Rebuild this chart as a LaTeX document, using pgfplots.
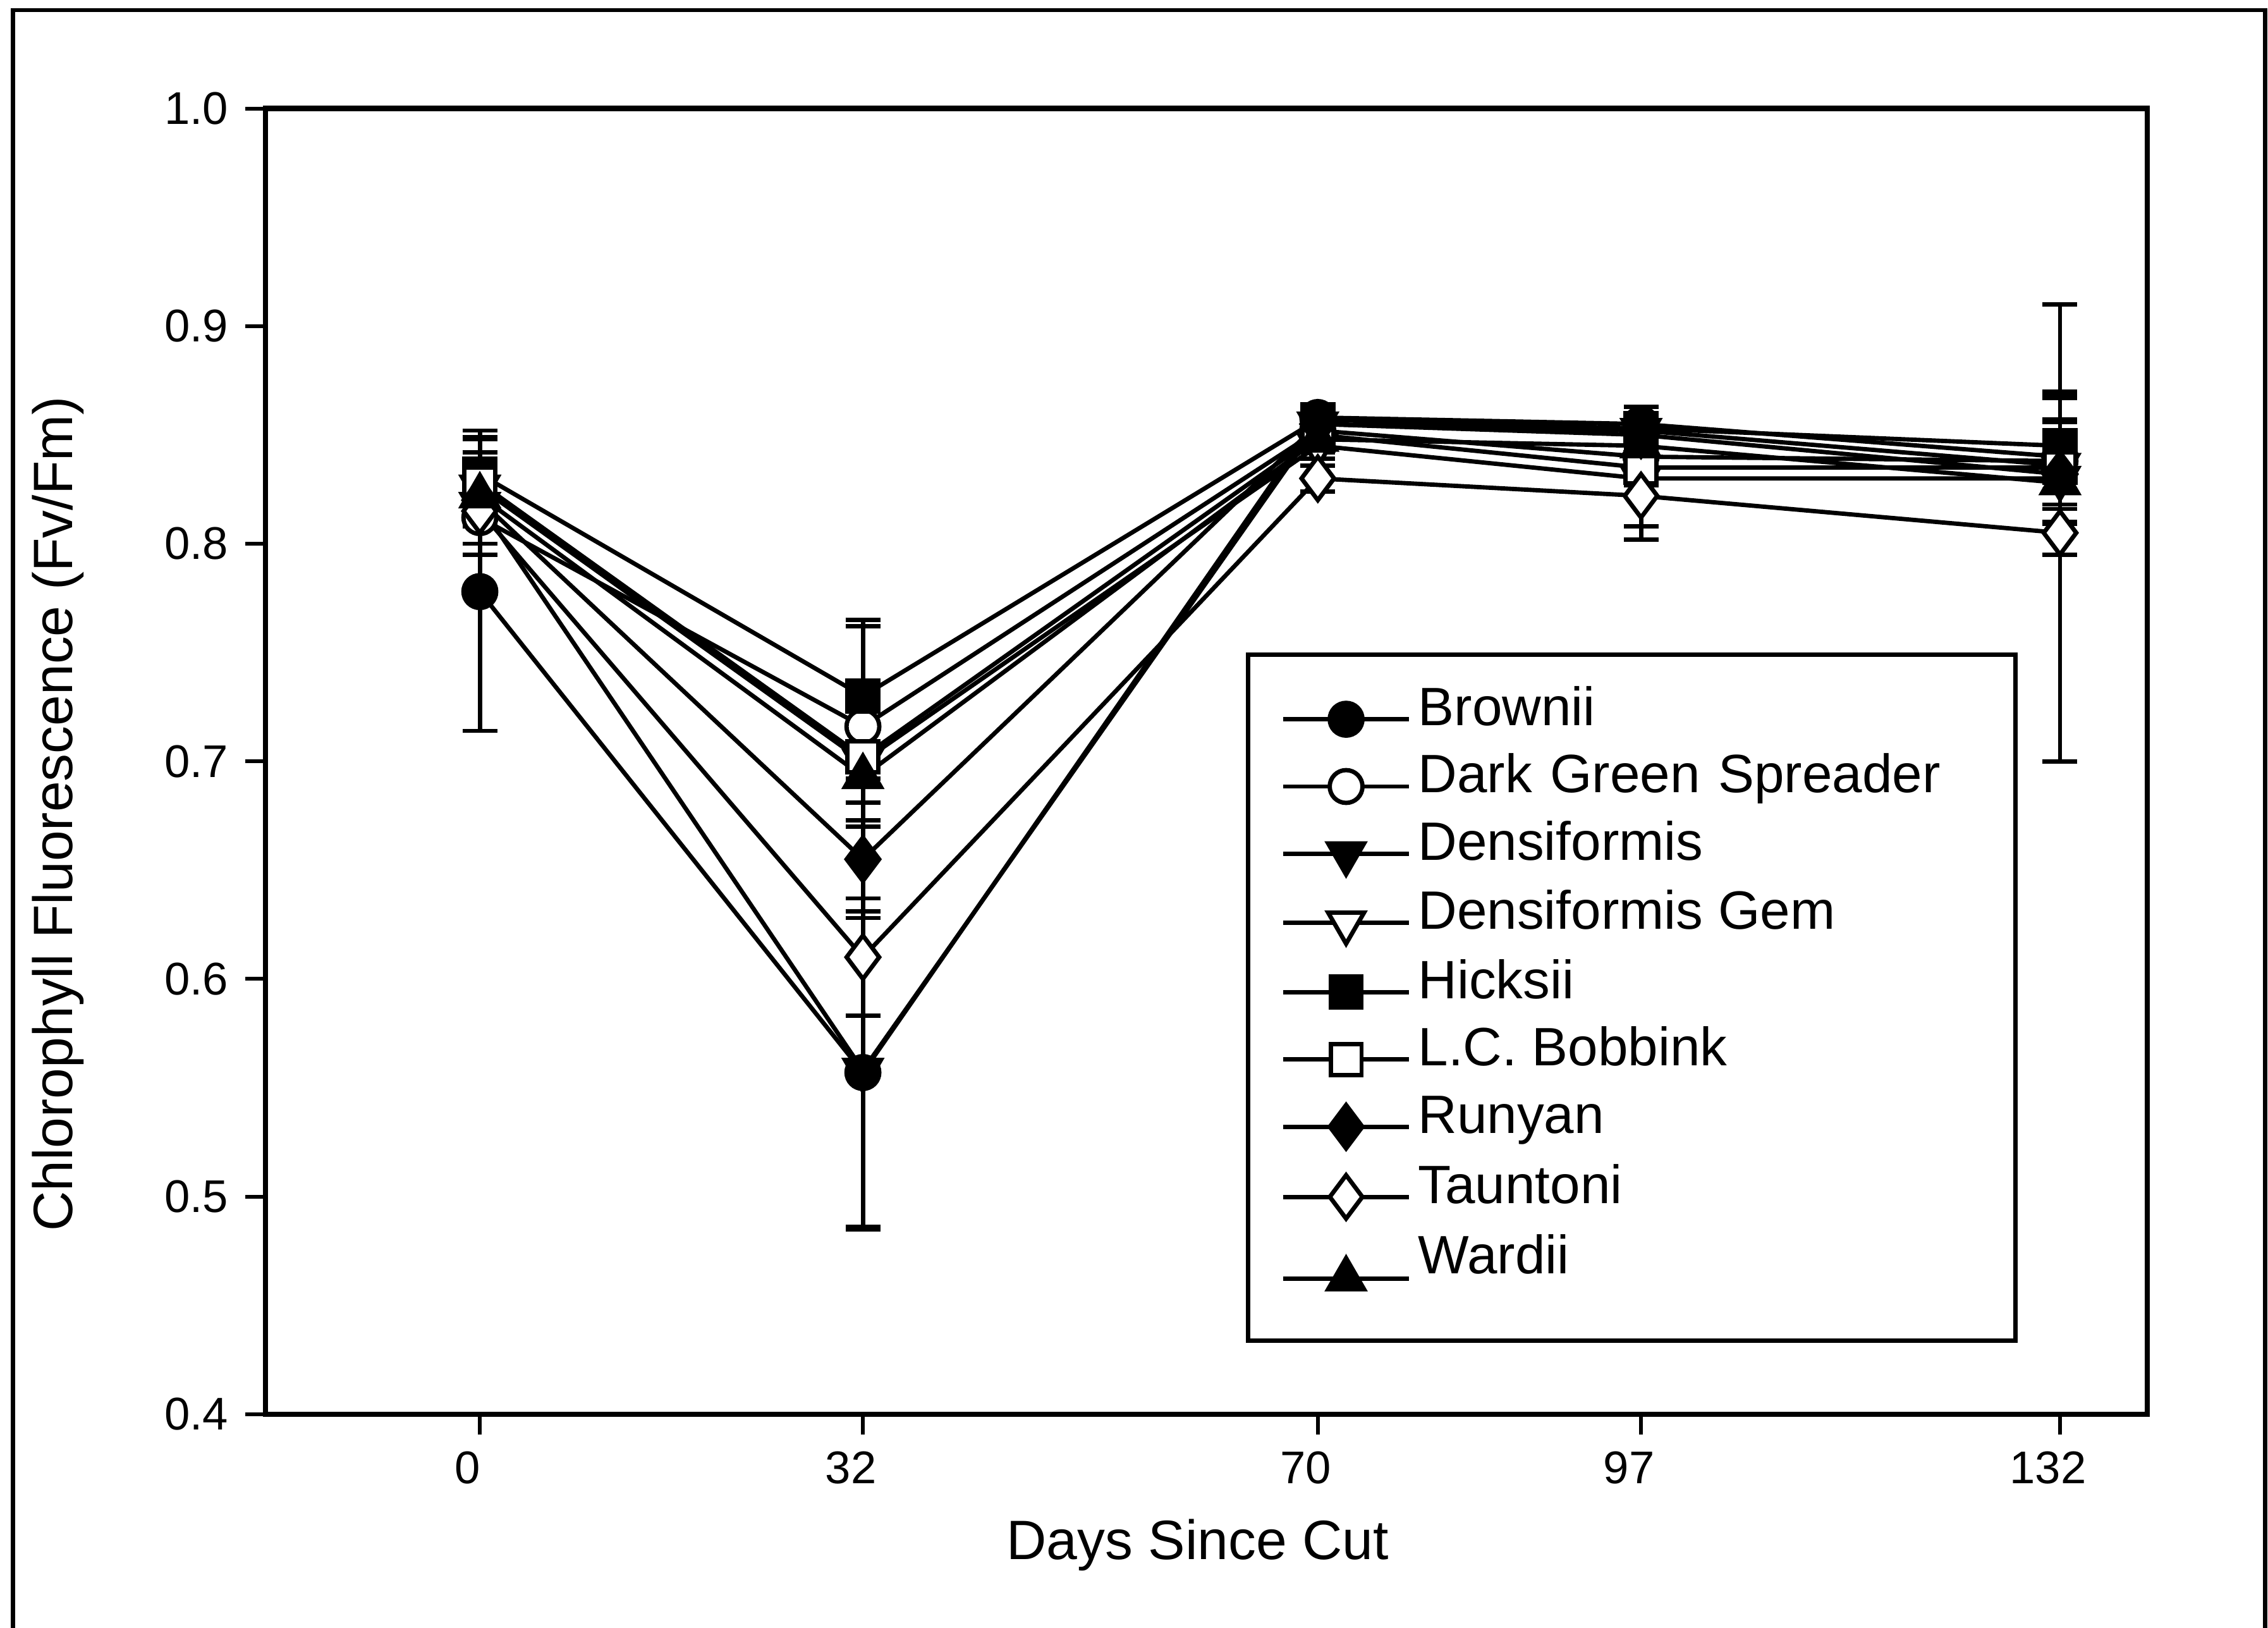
\documentclass[border=0pt]{standalone}
\usepackage{fontspec}
\setmainfont{Liberation Sans}
\usepackage{pgfplots}
\pgfplotsset{compat=1.18}
\usepackage{pgfplotstable}

% columns: day, then mean and error for each cultivar
\pgfplotstableread{
x   br    brE   dg    dgE   de    deE   dm    dmE   hi    hiE   lc    lcE   ru    ruE   ta    taE   wa    waE
0   0.778 0.064 0.812 0.012 0.818 0.010 0.826 0.010 0.832 0.020 0.828 0.020 0.820 0.010 0.815 0.015 0.822 0.027
32  0.557 0.071 0.716 0.046 0.558 0.073 0.700 0.008 0.730 0.035 0.702 0.006 0.655 0.018 0.610 0.027 0.693 0.012
70  0.858 0.006 0.852 0.005 0.855 0.005 0.845 0.006 0.857 0.005 0.850 0.006 0.855 0.005 0.830 0.006 0.848 0.006
97  0.855 0.008 0.840 0.008 0.852 0.006 0.830 0.022 0.853 0.005 0.835 0.008 0.850 0.006 0.822 0.020 0.845 0.006
132 0.840 0.030 0.838 0.029 0.836 0.020 0.830 0.012 0.845 0.012 0.835 0.010 0.832 0.037 0.805 0.105 0.828 0.010
}\data

\begin{document}
\begin{tikzpicture}
\useasboundingbox (-55.08pt,-44.25pt) rectangle (415.32pt,293.25pt);
\draw[line width=0.9pt] (-52.38pt,-60pt) -- (-52.38pt,291.15pt) -- (414.72pt,291.15pt) -- (414.72pt,-60pt);
\begin{axis}[
  at={(0pt,0pt)}, anchor=south west,
  width=390.3pt, height=270.75pt, scale only axis,
  xmin=-17.9, xmax=139.3, ymin=0.4, ymax=1.0,
  xtick={0,32,70,97,132}, xticklabels={0,32,70,97,132},
  ytick={0.4,0.5,0.6,0.7,0.8,0.9,1.0},
  yticklabels={0.4,0.5,0.6,0.7,0.8,0.9,1.0},
  tick align=outside, tick pos=left,
  major tick length=4.2pt,
  tick style={line width=0.8pt, black},
  axis line style={line width=1.1pt},
  ticklabel style={font=\fontsize{9.5}{11}\selectfont},
  xticklabel style={xshift=-2.5pt},
  label style={font=\fontsize{11.5}{13}\selectfont},
  xlabel={Days Since Cut},
  ylabel={Chlorophyll Fluorescence (Fv/Fm)},
  xlabel style={at={(axis description cs:0.4953,-0.1114)}, anchor=base},
  ylabel style={at={(axis description cs:-0.1027,0.4598)}, anchor=base},
  error bars/y dir=both, error bars/y explicit,
  error bars/error bar style={line width=0.9pt, black, solid},
  error bars/error mark options={rotate=90, mark size=3.6pt, line width=0.9pt, black, solid},
  legend style={at={(axis description cs:0.5209,0.5834)}, anchor=north west,
    draw=black, line width=0.9pt, font=\fontsize{11.2}{13}\selectfont,
    inner xsep=6.9pt, inner ysep=6.5pt, row sep=3.15pt, column sep=1.5pt,
    nodes={inner sep=0pt, text height=8.2pt, text depth=2.6pt}},
  legend cell align=left,
  legend image code/.code={\draw[mark repeat=2,mark phase=2,#1] plot coordinates {(0pt,-1.5pt) (13pt,-1.5pt) (26pt,-1.5pt)};},
]
\addplot[black, solid, line width=0.9pt, mark=*, mark size=3.4pt, mark options={solid, fill=black}] table[x=x, y=br, y error=brE] {\data};
\addlegendentry{Brownii}
\addplot[black, solid, line width=0.9pt, mark=*, mark size=3.4pt, mark options={solid, fill=white}] table[x=x, y=dg, y error=dgE] {\data};
\addlegendentry[text width=117pt, align=left]{Dark Green Spreader}
\addplot[black, solid, line width=0.9pt, mark=triangle*, mark size=4.3pt, mark options={solid, fill=black, rotate=180}] table[x=x, y=de, y error=deE] {\data};
\addlegendentry{Densiformis}
\addplot[black, solid, line width=0.9pt, mark=triangle*, mark size=4.3pt, mark options={solid, fill=white, rotate=180}] table[x=x, y=dm, y error=dmE] {\data};
\addlegendentry{Densiformis Gem}
\addplot[black, solid, line width=0.9pt, mark=square*, mark size=3.2pt, mark options={solid, fill=black}] table[x=x, y=hi, y error=hiE] {\data};
\addlegendentry{Hicksii}
\addplot[black, solid, line width=0.9pt, mark=square*, mark size=3.2pt, mark options={solid, fill=white}] table[x=x, y=lc, y error=lcE] {\data};
\addlegendentry{L.C. Bobbink}
\addplot[black, solid, line width=0.9pt, mark=diamond*, mark size=4.5pt, mark options={solid, fill=black}] table[x=x, y=ru, y error=ruE] {\data};
\addlegendentry{Runyan}
\addplot[black, solid, line width=0.9pt, mark=diamond*, mark size=4.5pt, mark options={solid, fill=white}] table[x=x, y=ta, y error=taE] {\data};
\addlegendentry{Tauntoni}
\addplot[black, solid, line width=0.9pt, mark=triangle*, mark size=4.3pt, mark options={solid, fill=black}] table[x=x, y=wa, y error=waE] {\data};
\addlegendentry[text depth=7.5pt]{Wardii}
\end{axis}
\end{tikzpicture}
\end{document}
